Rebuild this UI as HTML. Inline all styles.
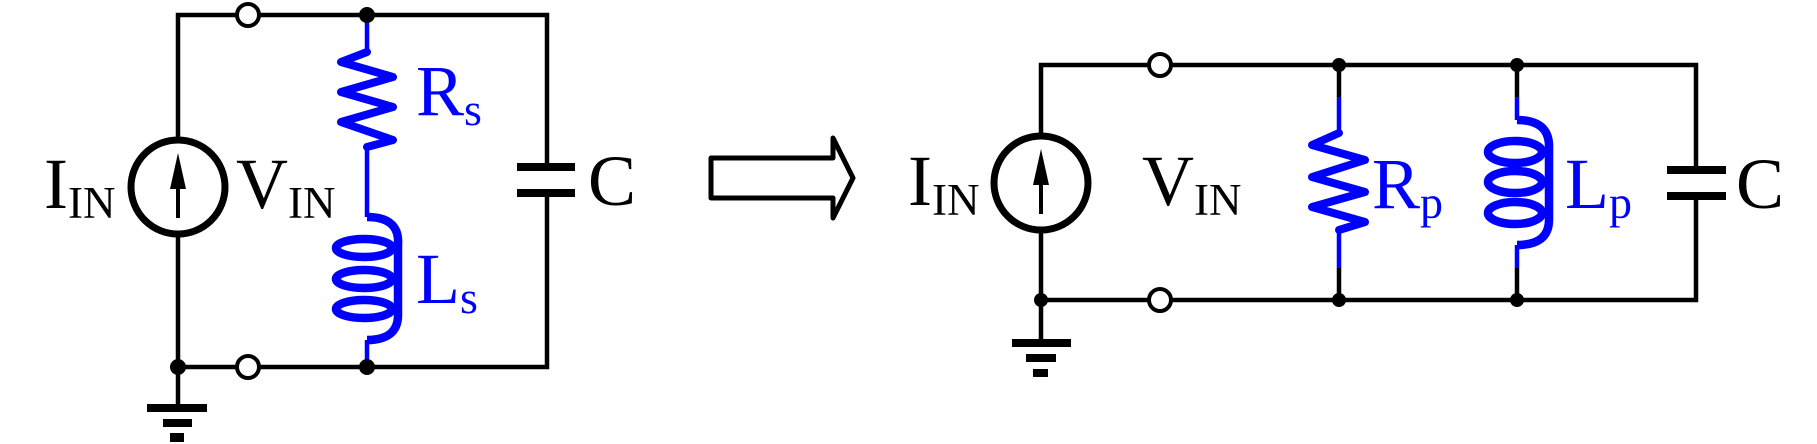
<!DOCTYPE html>
<html><head><style>html,body{margin:0;padding:0;background:#fff;}svg{display:block}svg text{font-family:"Liberation Serif","Times New Roman",serif;}</style></head>
<body>
<svg width="1817" height="444" viewBox="0 0 1817 444" xmlns="http://www.w3.org/2000/svg">
<!-- LEFT CIRCUIT -->
<g fill="none" stroke="#000" stroke-width="4.5">
<polyline points="178,140 178,15 547,15 547,167"/>
<polyline points="178,234 178,367 547,367 547,193"/>
<line x1="178" y1="367" x2="178" y2="408"/>
</g>
<g fill="none" stroke="#0000ff" stroke-width="4.5">
<line x1="367" y1="15" x2="367" y2="52"/>
<line x1="367" y1="147" x2="367" y2="217"/>
<line x1="367" y1="340" x2="367" y2="367"/>
</g>
<polyline fill="none" stroke="#0000ff" stroke-width="8" stroke-linejoin="round" stroke-linecap="round" points="367,52 341,62 393,77 341,92 393,107 341,122 393,140 367,147"/>
<g fill="none" stroke="#0000ff" stroke-width="8.5">
<path d="M367,217 Q400,217 398,245 L398,315 Q398,340 367,340"/>
<ellipse cx="364" cy="248" rx="28" ry="9"/>
<ellipse cx="364" cy="279" rx="28" ry="9"/>
<ellipse cx="364" cy="309" rx="28" ry="9"/>
</g>
<ellipse cx="178" cy="187" rx="47" ry="47" fill="#fff" stroke="#000" stroke-width="7"/>
<line x1="178" y1="218" x2="178" y2="175" stroke="#000" stroke-width="4"/>
<polygon points="178,153 170,189 186,189" fill="#000"/>
<g fill="#000">
<rect x="517" y="163" width="58" height="8"/><rect x="517" y="189" width="58" height="8"/>
<rect x="147" y="404" width="60" height="8"/><rect x="163" y="419" width="29" height="8"/><rect x="170" y="433" width="14" height="9"/>
</g>
<circle cx="248" cy="15" r="11" fill="#fff" stroke="#000" stroke-width="4"/>
<circle cx="248" cy="367" r="11" fill="#fff" stroke="#000" stroke-width="4"/>
<circle cx="367" cy="15" r="8" fill="#000"/><circle cx="367" cy="367" r="8" fill="#000"/><circle cx="178" cy="367" r="8" fill="#000"/>
<g fill="#000" font-size="72">
<text x="44" y="208">I<tspan font-size="45" dy="10">IN</tspan></text>
<text x="236" y="208">V<tspan font-size="45" dy="10">IN</tspan></text>
<text x="588" y="205">C</text>
</g>
<g fill="#0000ff" font-size="72">
<text x="416" y="115">R<tspan font-size="46" dy="10">s</tspan></text>
<text x="416" y="303">L<tspan font-size="46" dy="10">s</tspan></text>
</g>
<!-- ARROW -->
<polygon points="711,158 833,158 833,138 853,178 833,218 833,198 711,198" fill="#fff" stroke="#000" stroke-width="5" stroke-linejoin="round"/>
<!-- RIGHT CIRCUIT -->
<g fill="none" stroke="#000" stroke-width="4.5">
<polyline points="1041,136 1041,65 1696,65 1696,170"/>
<polyline points="1041,230 1041,300 1696,300 1696,196"/>
<line x1="1041" y1="300" x2="1041" y2="343"/>
<line x1="1339" y1="65" x2="1339" y2="97"/><line x1="1339" y1="268" x2="1339" y2="300"/>
<line x1="1517" y1="65" x2="1517" y2="97"/><line x1="1517" y1="268" x2="1517" y2="300"/>
</g>
<g fill="none" stroke="#0000ff" stroke-width="4.5">
<line x1="1339" y1="97" x2="1339" y2="133"/><line x1="1339" y1="230" x2="1339" y2="268"/>
<line x1="1517" y1="97" x2="1517" y2="120"/><line x1="1517" y1="245" x2="1517" y2="268"/>
</g>
<polyline fill="none" stroke="#0000ff" stroke-width="8" stroke-linejoin="round" stroke-linecap="round" points="1339,133 1312,145 1365,160 1312,177 1365,192 1312,207 1365,222 1339,230"/>
<g fill="none" stroke="#0000ff" stroke-width="8.5">
<path d="M1517,120 Q1550,120 1549,148 L1549,218 Q1550,245 1517,245"/>
<ellipse cx="1515" cy="152" rx="27" ry="11"/>
<ellipse cx="1515" cy="182" rx="27" ry="11"/>
<ellipse cx="1515" cy="213" rx="27" ry="11"/>
</g>
<ellipse cx="1041" cy="183" rx="47" ry="47" fill="#fff" stroke="#000" stroke-width="7"/>
<line x1="1041" y1="214" x2="1041" y2="170" stroke="#000" stroke-width="4"/>
<polygon points="1041,149 1033,185 1049,185" fill="#000"/>
<g fill="#000">
<rect x="1667" y="166" width="59" height="8"/><rect x="1667" y="192" width="59" height="8"/>
<rect x="1012" y="339" width="59" height="8"/><rect x="1026" y="354" width="30" height="8"/><rect x="1033" y="369" width="15" height="8"/>
</g>
<circle cx="1160" cy="65" r="11" fill="#fff" stroke="#000" stroke-width="4"/>
<circle cx="1160" cy="300" r="11" fill="#fff" stroke="#000" stroke-width="4"/>
<circle cx="1339" cy="65" r="7" fill="#000"/><circle cx="1517" cy="65" r="7" fill="#000"/>
<circle cx="1339" cy="300" r="7" fill="#000"/><circle cx="1517" cy="300" r="7" fill="#000"/><circle cx="1041" cy="300" r="7" fill="#000"/>
<g fill="#000" font-size="72">
<text x="908" y="205">I<tspan font-size="45" dy="10">IN</tspan></text>
<text x="1142" y="205">V<tspan font-size="45" dy="10">IN</tspan></text>
<text x="1736" y="208">C</text>
</g>
<g fill="#0000ff" font-size="72">
<text x="1372" y="208">R<tspan font-size="46" dy="10">p</tspan></text>
<text x="1565" y="208">L<tspan font-size="46" dy="10">p</tspan></text>
</g>
</svg>
</body></html>
